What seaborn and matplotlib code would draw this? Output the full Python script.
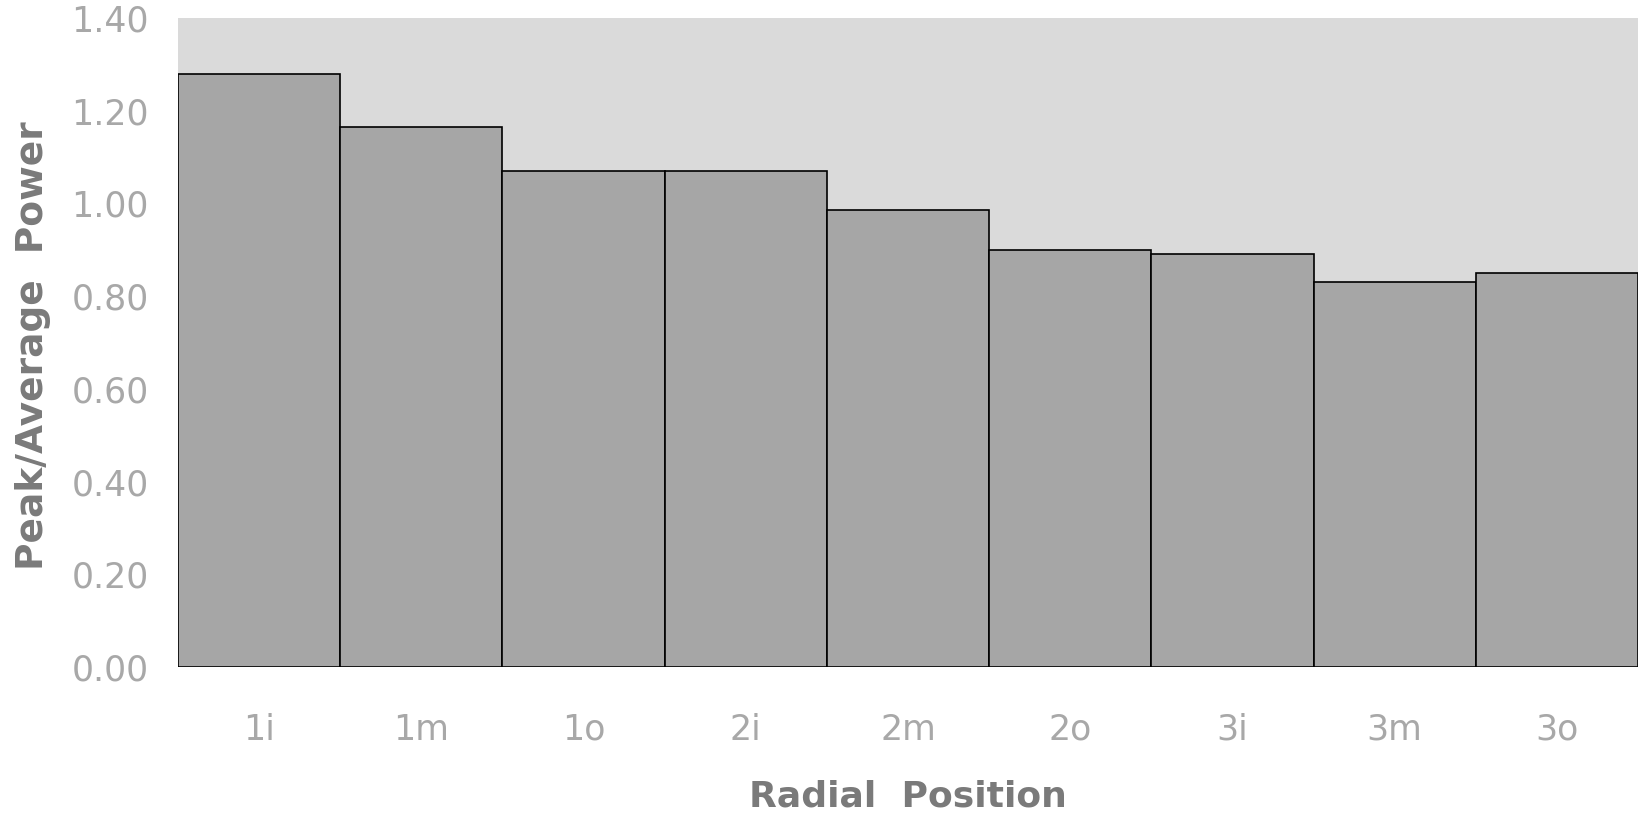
import pandas as pd
import seaborn as sns
import matplotlib.pyplot as plt

# radial positions and peak/average power
positions = ['1i', '1m', '1o', '2i', '2m', '2o', '3i', '3m', '3o']
power = [1.28, 1.165, 1.07, 1.07, 0.985, 0.90, 0.89, 0.83, 0.85]
yticks = [0.0, 0.2, 0.4, 0.6, 0.8, 1.0, 1.2, 1.4]

df = pd.DataFrame({'pos': positions, 'power': power})

sns.set_style('white')
plt.rcParams['font.family'] = ['DejaVu Sans']

fig = plt.figure(figsize=(16.38, 8.15), dpi=100)
ax = fig.add_axes([0.1087, 0.1816, 0.8913, 0.7963])
ax.set_facecolor('#dadada')

sns.barplot(data=df, x='pos', y='power', color='#a6a6a6', width=1.0,
            edgecolor='black', linewidth=1.2, saturation=1, ax=ax)

ax.set_xlim(-0.5, 8.5)
ax.set_ylim(0, 1.4)
ax.set_yticks(yticks)
ax.set_yticklabels([f'{v:.2f}' for v in yticks])

for s in ax.spines.values():
    s.set_visible(False)

ax.tick_params(axis='both', length=0, labelsize=25, labelcolor='#a8a8a8')
ax.tick_params(axis='x', pad=33)
ax.tick_params(axis='y', pad=21)

ax.set_xlabel('Radial  Position', fontsize=26, fontweight='bold', color='#7a7a7a')
ax.set_ylabel('Peak/Average  Power', fontsize=27, fontweight='bold', color='#7a7a7a')
ax.xaxis.set_label_coords(0.5, -0.200)
ax.xaxis.label.set_va('center')
ax.yaxis.set_label_coords(-0.0993, 0.495)
ax.yaxis.label.set_va('center')

plt.savefig('out.png', dpi=100)
